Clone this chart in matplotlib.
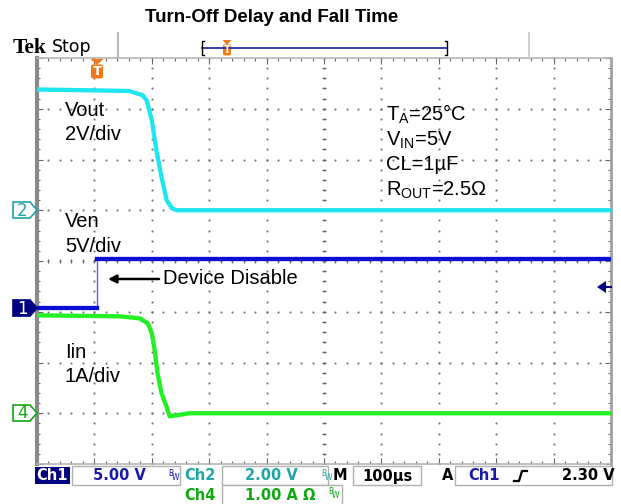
import numpy as np
import matplotlib
matplotlib.use("Agg")
import matplotlib.pyplot as plt
from matplotlib.patches import Polygon, Rectangle, FancyBboxPatch

plt.rcParams['mathtext.fontset'] = 'custom'
plt.rcParams['mathtext.rm'] = 'Liberation Sans'

# ---------------- data (time in us relative to trigger) ----------------
t_vout = [-104, 57, 80, 87, 96, 104, 113, 122, 131, 139, 896]
vout = [4.76, 4.70, 4.53, 4.33, 3.55, 2.36, 1.30, 0.39, 0.08, 0.0, 0.0]

t_ven = [-104, 0, 0, 896]
ven = [0.0, 0.0, 4.85, 4.85]

t_iin = [-104, 40, 75, 89, 96, 101, 106, 113, 122, 127, 139, 162, 896]
iin = [1.93, 1.91, 1.87, 1.77, 1.58, 1.24, 0.79, 0.39, 0.12, -0.06, -0.04, 0.0, 0.0]

# scope settings
time_per_div = 100.0      # us/div
trig_div = 1.04           # trigger position in divisions
ch2_scale, ch2_gnd = 2.0, 5.0   # Vout V/div, ground (div)
ch1_scale, ch1_gnd = 5.0, 3.07  # Ven
ch4_scale, ch4_gnd = 1.0, 1.0   # Iin

CYAN = '#1ee6f0'
BLUE = '#0a10d2'
GREEN = '#22f022'
TEAL = '#20a6a6'
NAVY = '#000080'
DGREEN = '#0fa80f'
ORANGE = '#f07a1a'
GRID = '#666666'

W, H = 621, 504
fig = plt.figure(figsize=(W / 100, H / 100), dpi=100)
L, T, R, B = 37, 58, 611, 464
ax = fig.add_axes([L / W, 1 - B / H, (R - L) / W, (B - T) / H])
ax.set_xlim(0, 10)
ax.set_ylim(0, 8)


def tx(t):
    return trig_div + np.asarray(t, float) / time_per_div


def P(px, py):
    return ((px - L) / ((R - L) / 10), (B - py) / ((B - T) / 8))


# grid dots
sub = np.arange(0, 10.001, 0.2)
suby = np.arange(0, 8.001, 0.2)
for xv in range(1, 10):
    ax.plot(np.full_like(suby, xv), suby, ls='none', marker='s', ms=1.3, color=GRID, mew=0)
for yv in range(1, 8):
    ax.plot(sub, np.full_like(sub, yv), ls='none', marker='s', ms=1.3, color=GRID, mew=0)
# center cross ticks
ax.plot(sub, np.full_like(sub, 4), ls='none', marker='|', ms=3.5, color=GRID, mew=0.8)
ax.plot(np.full_like(suby, 5), suby, ls='none', marker='_', ms=3.5, color=GRID, mew=0.8)

# edge ticks
ax.set_xticks(range(0, 11))
ax.set_yticks(range(0, 9))
ax.set_xticks(sub, minor=True)
ax.set_yticks(suby, minor=True)
ax.tick_params(which='both', direction='in', top=True, right=True, bottom=True, left=True,
               labelbottom=False, labelleft=False, color=GRID, width=0.8)
ax.tick_params(which='major', length=4)
ax.tick_params(which='minor', length=2.5)
for s in ['top', 'bottom']:
    ax.spines[s].set_color('#b4b4b4')
    ax.spines[s].set_linewidth(1.2)
ax.spines['left'].set_color('#8a8a8a')
ax.spines['left'].set_linewidth(3)
ax.spines['right'].set_color('#a0a0a0')
ax.spines['right'].set_linewidth(2)

# traces
LW = 3.1
ax.plot(tx(t_vout), ch2_gnd + np.array(vout) / ch2_scale, color=CYAN, lw=LW,
        solid_joinstyle='round', zorder=5)
tv = tx(t_ven)
vv = ch1_gnd + np.array(ven) / ch1_scale
ax.plot(tv[1:3], vv[1:3], color='#5a5aff', lw=1.0, zorder=5)
ax.plot(tv[:2], vv[:2], color=BLUE, lw=LW, zorder=6)
ax.plot(tv[2:], vv[2:], color=BLUE, lw=LW, zorder=6)
ax.plot(tx(t_iin), ch4_gnd + np.array(iin) / ch4_scale, color=GREEN, lw=LW,
        solid_joinstyle='round', zorder=5)

# annotations inside screen
af = dict(family=['Liberation Sans', 'DejaVu Sans'], fontsize=14.5, color='black')
ax.text(*P(65, 110), 'Vout', va='center', ha='left', **af)
ax.text(*P(65, 135), '2V/div', va='center', ha='left', **af)
ax.text(*P(65, 222), 'Ven', va='center', ha='left', **af)
ax.text(*P(65, 246), '5V/div', va='center', ha='left', **af)
ax.text(*P(65, 352), 'Iin', va='center', ha='left', **af)
ax.text(*P(65, 377), '1A/div', va='center', ha='left', **af)
ax.text(*P(163, 279), 'Device Disable', va='center', ha='left', **af)
ax.annotate('', xy=P(108, 279), xytext=P(159, 279),
            arrowprops=dict(arrowstyle='-|>', color='black', lw=1.8,
                            mutation_scale=12, shrinkA=0, shrinkB=0))
ax.text(*P(386, 114), r'T$_{\mathrm{A}}$=25°C', va='center', ha='left', **af)
ax.text(*P(386, 140), r'V$_{\mathrm{IN}}$=5V', va='center', ha='left', **af)
ax.text(*P(386, 165), 'CL=1µF', va='center', ha='left', **af)
ax.text(*P(386, 190), r'R$_{\mathrm{OUT}}$=2.5Ω', va='center', ha='left', **af)

# ---------------- overlay in pixel coords ----------------
ov = fig.add_axes([0, 0, 1, 1], zorder=10)
ov.set_xlim(0, W)
ov.set_ylim(H, 0)
ov.axis('off')
ov.patch.set_alpha(0)

ov.text(272, 18, 'Turn-Off Delay and Fall Time', ha='center', va='center',
        family='Liberation Sans', weight='bold', fontsize=13.5)

# header
ov.text(13, 48, 'Tek', ha='left', va='center', family='Liberation Serif', weight='bold',
        fontsize=15.5)
ov.text(52, 47, 'Stop', ha='left', va='center', family='DejaVu Sans', fontsize=12.5)
ov.plot([118, 118], [33, 57], color='#b8b8b8', lw=1.5)
ov.plot([529, 529], [33, 57], color='#d0d0d0', lw=1.5)
ov.plot([202, 447], [48, 48], color='#1020a0', lw=1.2)
ov.plot([204, 202, 202, 204], [41, 41, 55, 55], color='black', lw=1)
ov.plot([445, 447, 447, 445], [41, 41, 55, 55], color='black', lw=1)


def tmark(x, ytop, w, h, fs):
    ov.add_patch(Polygon([(x - w / 2, ytop), (x + w / 2, ytop), (x, ytop + h * 0.3)],
                         closed=True, color=ORANGE, lw=0))
    ov.add_patch(FancyBboxPatch((x - w / 2 + 0.5, ytop + h * 0.27), w - 1, h * 0.7,
                                boxstyle='round,pad=0,rounding_size=2', color=ORANGE, lw=0))
    ov.text(x, ytop + h * 0.62, 'T', color='white', ha='center', va='center',
            family='DejaVu Sans', weight='bold', fontsize=fs)


tmark(227, 40, 9, 16, 7)
tmark(97, 59, 13, 20, 9.5)

# channel markers on left


def chmark(y, label, edge, face, tcolor):
    pts = [(13, y - 8), (30, y - 8), (37, y), (30, y + 8), (13, y + 8)]
    ov.add_patch(Polygon(pts, closed=True, facecolor=face, edgecolor=edge, lw=1.2))
    ov.text(22, y + 0.5, label, ha='center', va='center', color=tcolor,
            family='DejaVu Sans', fontsize=12)


chmark(210, '2', TEAL, 'white', TEAL)
chmark(308, '1', NAVY, NAVY, 'white')
chmark(413, '4', DGREEN, 'white', DGREEN)

# trigger level arrow at right
ov.add_patch(Polygon([(597, 287), (606, 281), (606, 293)], closed=True, color=NAVY, lw=0))
ov.plot([604, 611], [287, 287], color=NAVY, lw=1.5)

# ---------------- bottom status bar ----------------
bf = dict(family='DejaVu Sans', fontsize=10.5, va='center', weight='bold')
ov.add_patch(Rectangle((35, 467), 35, 17, color=NAVY, lw=0))
ov.text(36, 476, 'Ch1', color='white', ha='left', **bf)
ov.add_patch(Rectangle((72, 466), 108, 19, facecolor='white', edgecolor='#b0b0b0', lw=1))
ov.text(93, 476, '5.00 V', color='#1a1aa8', ha='left', **bf)


def bw(x, y, c):
    ov.text(x, y - 3, 'B', color=c, family='DejaVu Sans', fontsize=5.5, ha='left', va='center')
    ov.text(x + 4, y + 1, 'W', color=c, family='DejaVu Sans', fontsize=5.5, ha='left', va='center')


bw(168, 476, '#1a1aa8')
ov.text(184, 476, 'Ch2', color=TEAL, ha='left', **bf)
ov.add_patch(Rectangle((222, 466), 106, 19, facecolor='white', edgecolor='#b0b0b0', lw=1))
ov.text(245, 476, '2.00 V', color=TEAL, ha='left', **bf)
bw(321, 476, TEAL)
ov.text(333, 476, 'M', color='black', ha='left', **bf)
ov.add_patch(Rectangle((353, 466), 68, 19, facecolor='white', edgecolor='#b0b0b0', lw=1))
ov.text(362, 476, '100µs', color='black', ha='left', **bf)
ov.text(442, 476, 'A', color='black', ha='left', **bf)
ov.add_patch(Rectangle((455, 466), 157, 19, facecolor='white', edgecolor='#b0b0b0', lw=1))
ov.text(468, 476, 'Ch1', color='#1a1aa8', ha='left', **bf)
ov.plot([514, 519, 522, 527], [481, 481, 471, 471], color='black', lw=1.6)
ov.text(562, 476, '2.30 V', color='black', ha='left', **bf)

ov.text(184, 495, 'Ch4', color=DGREEN, ha='left', **bf)
ov.add_patch(Rectangle((222, 485), 120, 20, facecolor='white', edgecolor='#b0b0b0', lw=1))
ov.text(245, 495, '1.00 A Ω', color=DGREEN, ha='left', **bf)
bw(328, 495, DGREEN)

fig.savefig('out.png', dpi=100)
